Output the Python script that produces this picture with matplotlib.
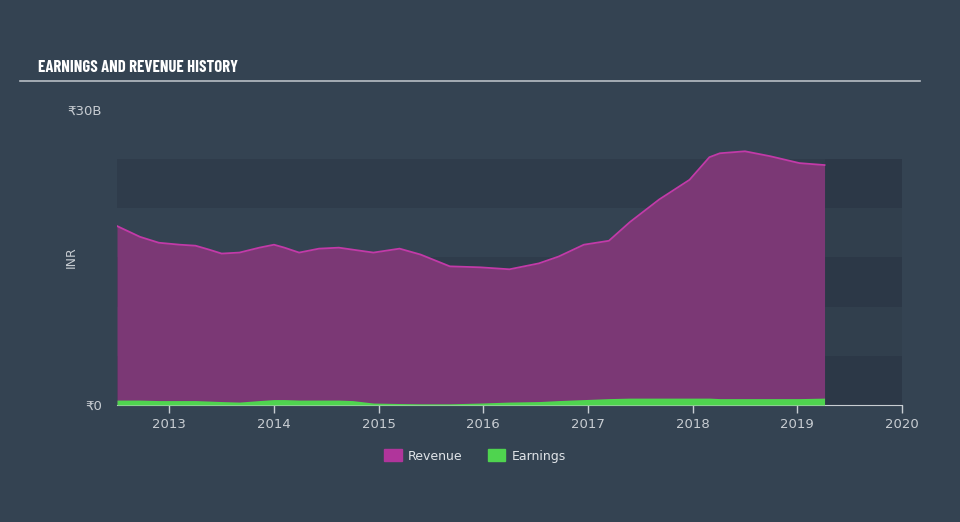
import matplotlib
matplotlib.use("Agg")
from matplotlib import pyplot as plt
from matplotlib.patches import Patch

# data (dates as fractional years, values in INR billions)
dates = [2012.50, 2012.72, 2012.90, 2013.10, 2013.25, 2013.38, 2013.50, 2013.67,
         2013.86, 2014.00, 2014.10, 2014.24, 2014.43, 2014.62, 2014.75, 2014.95,
         2015.20, 2015.40, 2015.68, 2015.97, 2016.25, 2016.53, 2016.72, 2016.96,
         2017.20, 2017.40, 2017.68, 2017.97, 2018.16, 2018.26, 2018.50, 2018.74,
         2019.02, 2019.26]
revenue = [18.2, 17.1, 16.5, 16.3, 16.2, 15.8, 15.4, 15.5,
           16.0, 16.3, 16.0, 15.5, 15.9, 16.0, 15.8, 15.5,
           15.9, 15.3, 14.1, 14.0, 13.8, 14.4, 15.1, 16.3,
           16.7, 18.6, 20.9, 22.9, 25.2, 25.6, 25.8, 25.3,
           24.6, 24.4]
earnings = [0.5, 0.5, 0.45, 0.45, 0.45, 0.4, 0.35, 0.3,
            0.45, 0.55, 0.55, 0.5, 0.5, 0.5, 0.45, 0.2,
            0.15, 0.12, 0.12, 0.2, 0.3, 0.35, 0.45, 0.55,
            0.65, 0.7, 0.7, 0.7, 0.7, 0.65, 0.65, 0.65,
            0.65, 0.7]
years = [2013, 2014, 2015, 2016, 2017, 2018, 2019, 2020]

bg = "#344352"
band = "#2f3c4b"

fig = plt.figure(figsize=(9.6, 5.22), dpi=100, facecolor=bg)
ax = fig.add_axes([117/960, 1-405/522, 785/960, 295/522], facecolor=bg)

# alternating horizontal bands
for lo in (0, 10, 20):
    ax.axhspan(lo, lo + 5, color=band, zorder=0, lw=0)
# slightly darker area after the last data point (only inside the banded part)
ax.axvspan(dates[-1], 2020, ymax=25/30, color="#000000", alpha=0.05, zorder=0, lw=0)

ax.fill_between(dates, revenue, color="#7b3875", lw=0, zorder=2)
ax.plot(dates, revenue, color="#c23aa8", lw=1.3, zorder=3)
ax.fill_between(dates, earnings, color="#4fd44f", lw=0, zorder=4)

ax.set_xlim(2012.5, 2020)
ax.set_ylim(0, 30)
ax.set_xticks(years)
ax.set_xticklabels([str(y) for y in years])
ax.set_yticks([0, 30])
ax.set_yticklabels(["₹0", "₹30B"])
ax.tick_params(axis="x", colors="#c8cdd2", length=6, width=1, labelsize=9.5, pad=3)
ax.tick_params(axis="y", colors="#c8cdd2", length=0, labelsize=9.5, pad=11)
ax.get_yticklabels()[1].set_y(30.5)
for s in ("top", "right", "left"):
    ax.spines[s].set_visible(False)
ax.spines["bottom"].set_color("#c8cdd2")
ax.set_ylabel("INR", color="#c8cdd2", fontsize=9, labelpad=2)
ax.yaxis.set_label_coords(-0.05, 0.5)

# title and rule
fig.text(38/960, 1-68/522, "EARNINGS AND REVENUE HISTORY", color="white",
         fontsize=12, fontweight="bold", family=["Barlow Condensed", "DejaVu Sans"],
         va="center")
fig.add_artist(plt.Line2D([20/960, 920/960], [1-81/522, 1-81/522],
                          color="#b8bec5", lw=1.2, transform=fig.transFigure))

handles = [Patch(color="#b0359b", label="Revenue"), Patch(color="#4fd44f", label="Earnings")]
fig.legend(handles=handles, loc="center", bbox_to_anchor=(475/960, 1-456/522), ncol=2,
           frameon=False, labelcolor="#e0e4e8", fontsize=9, handlelength=1.4,
           handleheight=1.1, columnspacing=2.0, handletextpad=0.5)

fig.savefig("out.png", dpi=100, facecolor=bg)
